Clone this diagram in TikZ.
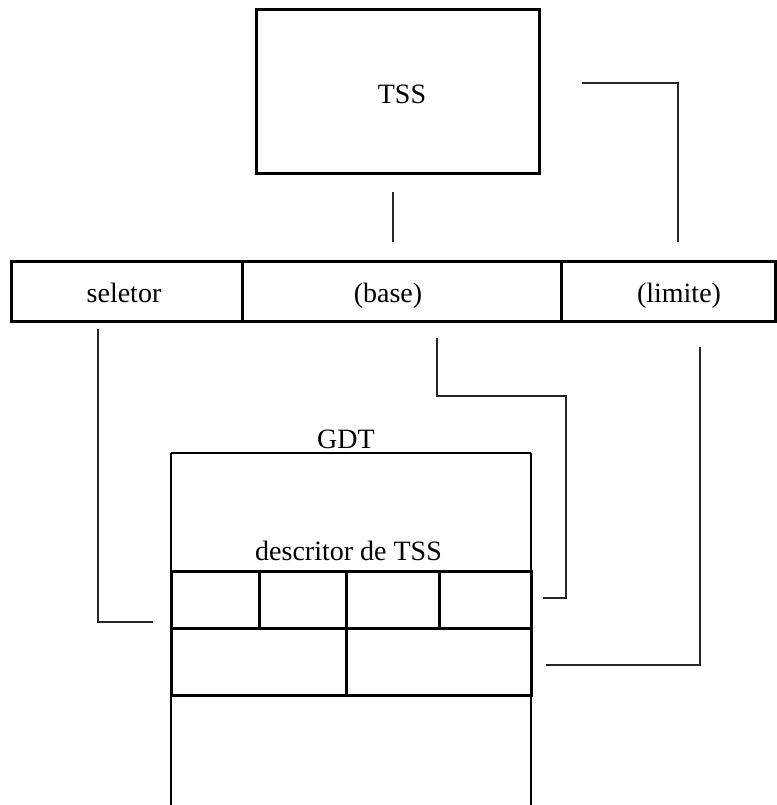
\documentclass[tikz,border=0pt]{standalone}
\usepackage{fontspec}
\setmainfont{Liberation Serif}
\usepackage{tikz}
\usetikzlibrary{positioning, calc}

\begin{document}
\begin{tikzpicture}[x=1pt, y=-1pt]
  \tikzset{cell/.style={rectangle, draw=black, line width=3pt, inner sep=0pt, outer sep=0pt}}
  \tikzset{lbl/.style={font=\fontsize{28}{34}\selectfont, anchor=base, inner sep=0pt}}
  \tikzset{conn/.style={draw=black!85, line width=1.4pt}}
  \useasboundingbox (0,0) rectangle (776,805);

  % TSS segment
  \node[cell, minimum width=283pt, minimum height=164pt] (tss) at (397.5, 92) {};
  \node[lbl] (tsslbl) at (402, 104) {TSS};

  % Task register (seletor / base / limite)
  \node[cell, minimum width=231pt, minimum height=60pt] (sel) at (126.5, 291) {};
  \node[cell, minimum width=319pt, minimum height=60pt] (base) at (401.5, 291) {};
  \node[cell, minimum width=214pt, minimum height=60pt] (lim) at (668, 291) {};
  \node[lbl] (sellbl) at (124, 302) {seletor};
  \node[lbl] (baselbl) at (388, 302) {(base)};
  \node[lbl] (limlbl) at (679, 302) {(limite)};

  % GDT column
  \coordinate (gtl) at (171, 453);
  \coordinate (gtr) at (531, 453);
  \draw[line width=2.8pt] (gtl) -- (gtr);
  \draw[line width=2pt] (gtl) -- (171, 805);
  \draw[line width=2pt] (gtr) -- (531, 805);
  \node[lbl] (gdtlbl) at (346, 448) {GDT};
  \node[lbl] (desclbl) at (348.5, 560) {descritor de TSS};

  % TSS descriptor cells
  \foreach \name/\x/\w in {da/215/88, db/302.5/87, dc/392.5/93, dd/485/92}{
    \node[cell, minimum width=\w pt, minimum height=57pt] (\name) at (\x, 599.5) {};
  }
  \foreach \name/\x/\w in {ea/258.5/175, eb/438.5/185}{
    \node[cell, minimum width=\w pt, minimum height=67pt] (\name) at (\x, 661.5) {};
  }

  % Connectors
  \coordinate (tssa) at (393, 192);
  \coordinate (tssb) at (393, 242);
  \draw[conn] (tssa) -- (tssb);
  \coordinate (tlima) at (582, 83);
  \coordinate (tlimb) at (678, 242);
  \draw[conn] (tlima) -| (tlimb);
  \coordinate (sela) at (98, 329);
  \coordinate (selb) at (153, 622);
  \draw[conn] (sela) |- (selb);
  \coordinate (basea) at (437, 338);
  \coordinate (baseb) at (543, 598);
  \draw[conn] (basea) -- (437, 396) -- (566, 396) |- (baseb);
  \coordinate (lima) at (700, 347);
  \coordinate (limb) at (546, 665);
  \draw[conn] (lima) |- (limb);
\end{tikzpicture}
\end{document}
